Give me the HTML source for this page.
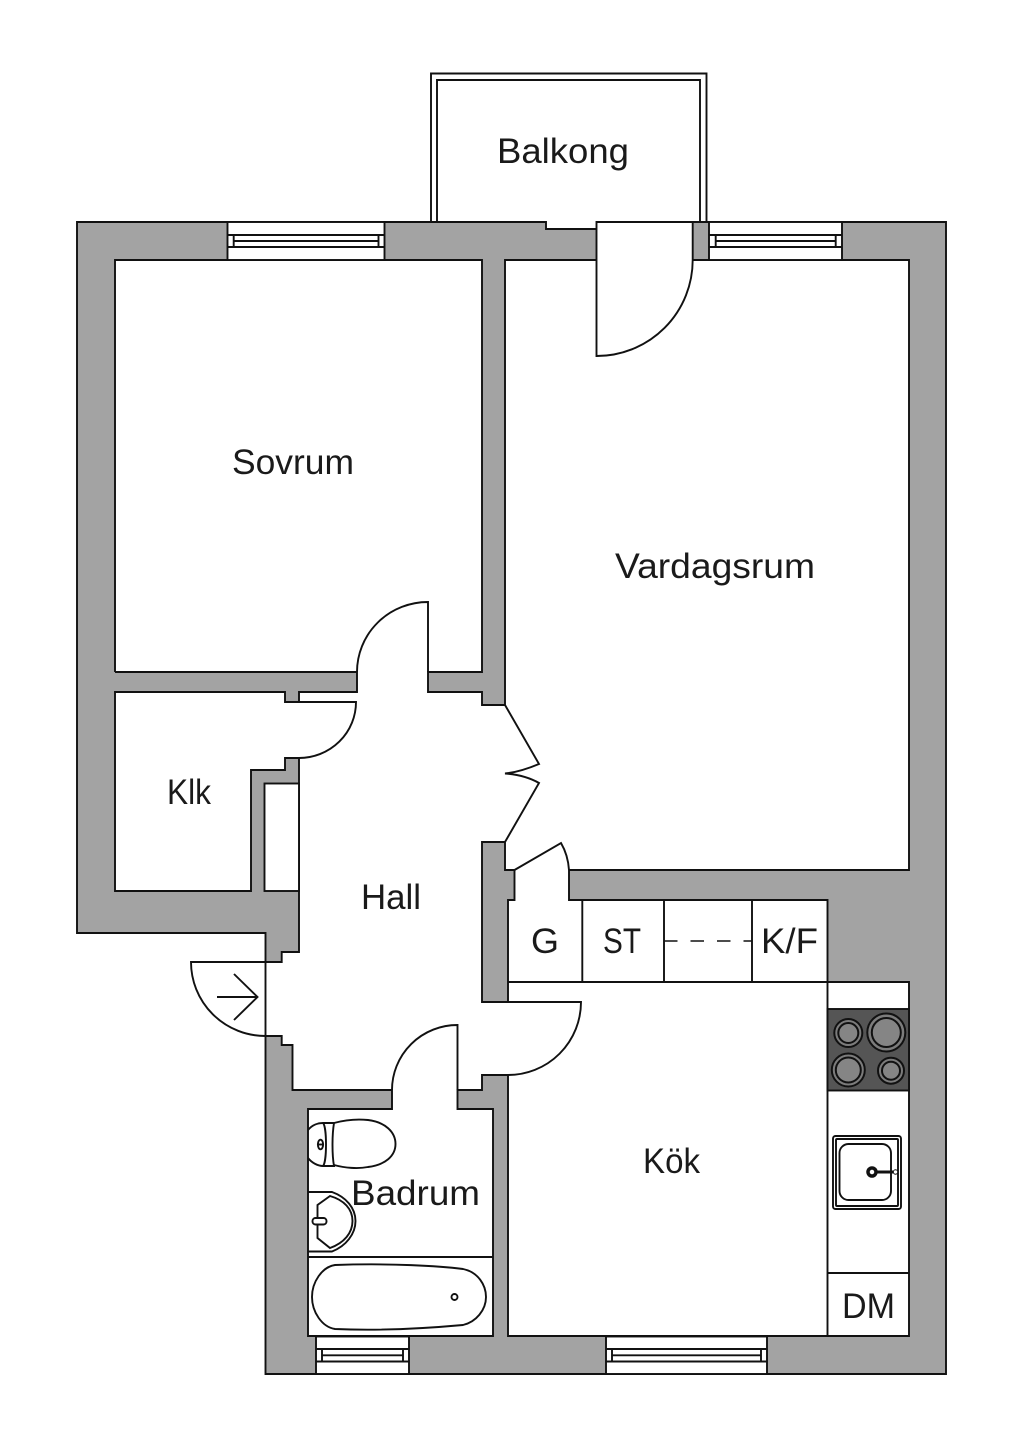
<!DOCTYPE html>
<html><head><meta charset="utf-8"><style>
html,body{margin:0;padding:0;background:#fff}
svg{display:block}
text{font-family:"Liberation Sans",sans-serif;font-size:35px;fill:#1a1a1a}
.l{fill:none;stroke:#111;stroke-width:1.9}
.w{fill:#fff;stroke:#111;stroke-width:1.9}
.t{stroke-width:1.6}
</style></head><body>
<svg width="1024" height="1448" viewBox="0 0 1024 1448" xmlns="http://www.w3.org/2000/svg">
<rect width="1024" height="1448" fill="#fff"/>
<!-- balcony -->
<path class="l" d="M431 222V73.5H706.5V222M437 222V80H700V222"/>
<!-- walls -->
<path d="M77 222H946V1374H265.500V933H77Z" fill="#a3a3a3" stroke="#111" stroke-width="1.9"/>
<!-- interior fill -->
<path fill="#fff" d="M115 260H482V672H428V692H482V705H505V260H909V870H569V900H827.500V982H909V1336H508V1075H482V1090H457.500V1109H493V1336H308V1109H392V1090H292.500V1045H281.700V1036H265.500V962H281.700V952H299V758H285V770H251V891H115V692H285V702H299V692H357V672H115Z"/>
<path class="l" d="M115 672V260H482V672H428V692H482V705H505V260H909V870H569V900H827.500V982H909V1336H508V1075H482V1090H457.500V1109H493V1336H308V1109H392V1090H292.500V1045H281.700V1036H265.500M265.500 962H281.700V952H299V758H285V770H251V891H115V692H285V702H299V692H357V672H115"/>
<!-- wall island -->
<path d="M505 842H482V1002H508V900H514.500V870H505Z" fill="#a3a3a3" stroke="#111" stroke-width="1.9"/>
<!-- hall closet -->
<rect class="w" x="264.500" y="783.500" width="34.500" height="107.500"/>
<!-- balcony door notch + opening -->
<path fill="#fff" d="M546 221H597V229H546Z"/>
<path class="l" d="M530 222H546V229H596.500"/>
<rect x="596.500" y="222" width="96" height="38" fill="#fff"/>
<path class="w" d="M596.500 222H692.700V260A96 96 0 0 1 596.500 356Z"/>
<!-- windows -->
<g id="wins">
<rect class="w" x="227.500" y="222" width="157" height="38"/>
<path class="l" d="M227.500 235H384.500M233.700 241H378.500M227.500 247H384.500M233.700 235V247M378.500 235V247"/>
<rect class="w" x="709" y="222" width="133" height="38"/>
<path class="l" d="M709 235H842M715.700 241H835.700M709 247H842M715.700 235V247M835.700 235V247"/>
<rect class="w" x="606" y="1336.500" width="161" height="37.500"/>
<path class="l" d="M606 1349H767M612 1355.300H761M606 1361.500H767M612 1349V1361.500M761 1349V1361.500"/>
<rect class="w" x="316" y="1336.500" width="93" height="37.500"/>
<path class="l" d="M316 1349H409M322 1355.300H403M316 1361.500H409M322 1349V1361.500M403 1349V1361.500"/>
</g>
<!-- doors -->
<path class="l" d="M428 672V602A71 70 0 0 0 357 672"/>
<path class="l" d="M299 702H356A57 56 0 0 1 299 758"/>
<path class="l" d="M505 705L539 764Q520 772 505 773.500Q525 775 539 783L505 842"/>
<path class="l" d="M514.500 870L561 843Q568 855 569 870"/>
<path class="l" d="M508 1002H581A73 73 0 0 1 508 1075"/>
<path class="l" d="M457.500 1090V1025A65.500 65 0 0 0 392 1090"/>
<path class="w" d="M265.500 962H191A74.500 74 0 0 0 265.500 1036Z"/>
<path class="l" d="M217 997H257M234 974L257.500 997L234 1020"/>
<!-- cabinets -->
<path class="l" d="M508 982H827.500M582.300 900V982M664 900V982M752 900V982"/>
<path class="l t" d="M664 941H752" stroke-dasharray="13.500 13"/>
<path class="l" d="M827.500 982V1336M827.500 1273H909"/>
<!-- hob -->
<rect x="827.500" y="1009" width="81.500" height="81.500" fill="#555" stroke="#111" stroke-width="1.900"/>
<g stroke="#111" stroke-width="2" fill="#7c7c7c">
<circle cx="848.300" cy="1033" r="14"/><circle cx="848.300" cy="1033" r="10" fill="#858585"/>
<circle cx="886.300" cy="1032.500" r="19"/><circle cx="886.300" cy="1032.500" r="14.500" fill="#858585"/>
<circle cx="848.300" cy="1070" r="16.500"/><circle cx="848.300" cy="1070" r="12.500" fill="#858585"/>
<circle cx="891" cy="1070.700" r="13"/><circle cx="891" cy="1070.700" r="9" fill="#858585"/>
</g>
<!-- sink -->
<rect class="l" x="833" y="1136" width="68" height="73" rx="2.500"/>
<rect class="l" x="836" y="1139" width="62" height="67" rx="1"/>
<rect class="l" x="839.500" y="1144" width="51.500" height="56" rx="9"/>
<circle cx="872" cy="1172" r="4" fill="#fff" stroke="#111" stroke-width="3.500"/>
<path d="M876 1172H893" stroke="#111" stroke-width="3"/>
<circle cx="895.500" cy="1172" r="2.200" fill="#fff" stroke="#111" stroke-width="1"/>
<!-- bathroom -->
<path class="l" d="M308 1257H493"/>
<path class="l" d="M335 1265C390 1263 440 1266 463 1269C478 1272 486 1285 486 1297C486 1310 476 1322 463 1325C430 1328 380 1331 335 1329C322 1327 312 1312 312 1297C312 1282 322 1267 335 1265Z"/>
<circle class="l" cx="454.500" cy="1297" r="3"/>
<path class="l" d="M334 1123C345 1120 358 1119 368 1120C385 1122 395.500 1132 395.500 1144C395.500 1156 385 1165 368 1167C358 1169 345 1168 334 1165"/>
<path class="l" d="M308 1130C312 1125 318 1123 323 1123H334C332 1135 332 1155 334 1166H323C318 1166 312 1163 308 1158"/>
<path class="l" d="M323 1123C327 1127 327 1162 323 1166"/>
<ellipse class="l" cx="320.500" cy="1144.500" rx="2.600" ry="4.800"/>
<path class="l" d="M318 1144.500H323"/>
<path class="l" d="M308 1192H332C346 1197 355.500 1208 355.500 1221C355.500 1234 346 1246 332 1251.500H308"/>
<path class="l" d="M330 1196C344 1200 352.500 1209 352.500 1221C352.500 1233 344 1243 330 1248L317.500 1238V1205Z"/>
<rect class="w" x="312.500" y="1218" width="14" height="6.500" rx="3"/>
<!-- labels -->
<text x="497" y="163" textLength="132" lengthAdjust="spacingAndGlyphs">Balkong</text>
<text x="232" y="474" textLength="122" lengthAdjust="spacingAndGlyphs">Sovrum</text>
<text x="615" y="578" textLength="200" lengthAdjust="spacingAndGlyphs">Vardagsrum</text>
<text x="167" y="804" textLength="44" lengthAdjust="spacingAndGlyphs">Klk</text>
<text x="361" y="909" textLength="60" lengthAdjust="spacingAndGlyphs">Hall</text>
<text x="531" y="953" textLength="28" lengthAdjust="spacingAndGlyphs">G</text>
<text x="603" y="953" textLength="38" lengthAdjust="spacingAndGlyphs">ST</text>
<text x="761" y="953" textLength="57" lengthAdjust="spacingAndGlyphs">K/F</text>
<text x="643" y="1173" textLength="57" lengthAdjust="spacingAndGlyphs">Kök</text>
<text x="351" y="1205" textLength="129" lengthAdjust="spacingAndGlyphs">Badrum</text>
<text x="842" y="1318" textLength="53" lengthAdjust="spacingAndGlyphs">DM</text>
</svg>
</body></html>
